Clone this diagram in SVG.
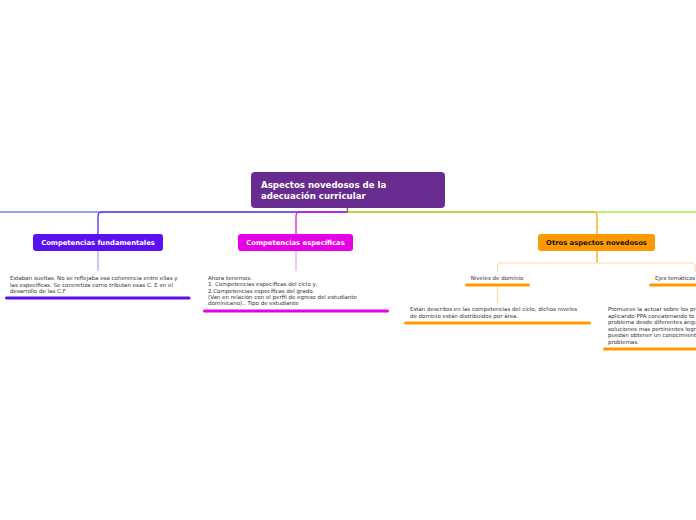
<svg xmlns="http://www.w3.org/2000/svg" width="696" height="520" viewBox="0 0 696 520">
<style>
.t{font-family:"DejaVu Sans",Verdana,sans-serif;font-size:5.5px;fill:#333}
.h{font-family:"DejaVu Sans",Verdana,sans-serif;font-size:6.8px;font-weight:bold;text-anchor:middle}
.c{fill:none;stroke-width:1.2}
.u{fill:none;stroke-width:3;stroke-linecap:round}
</style>
<rect width="696" height="520" fill="#fff"/>
<g id="connectors">
<path class="c" d="M347.5 208 V212 H0" stroke="#1f4fe6"/>
<path class="c" d="M347.5 212 H102 Q98 212 98 216 V234" stroke="#5a10f0"/>
<path class="c" d="M347.5 212 H300 Q296 212 296 216 V234" stroke="#e600e6"/>
<path class="c" d="M347.5 212 H593 Q597 212 597 216 V234" stroke="#ff9900"/>
<path class="c" d="M347.5 212 H696" stroke="#7ee000"/>
<path class="c" d="M347.5 208 V212" stroke="#9a7030"/>
<path class="c" d="M98 251 V271" stroke="#b89cf8"/>
<path class="c" d="M296 251 V271" stroke="#f49cf4"/>
<path class="c" d="M597 251 V263" stroke="#ff9900"/>
<path class="c" d="M497.5 272 V267 Q497.5 263 501.5 263 H691 Q695 263 695 267 V272" stroke="#ffd9a6"/>
<path class="c" d="M497.5 287 V303" stroke="#ffd9a6"/>
</g>
<g id="central">
<rect x="251" y="172" width="194" height="36" rx="4" fill="#682c8e"/>
<text x="261" y="187.5" font-family="DejaVu Sans,Verdana,sans-serif" font-size="8.6" font-weight="bold" fill="#fff">Aspectos novedosos de la</text>
<text x="261" y="198.5" font-family="DejaVu Sans,Verdana,sans-serif" font-size="8.6" font-weight="bold" fill="#fff">adecuación curricular</text>
</g>
<g id="fundamentales">
<rect x="33" y="234" width="130" height="17" rx="3" fill="#5a10f0"/>
<text class="h" x="98" y="245" fill="#fff">Competencias fundamentales</text>
</g>
<g id="fundamentales-nota">
<text class="t" x="10" y="280">Estaban sueltas. No se reflejaba esa coherencia entre ellas y</text>
<text class="t" x="10" y="286.5">las específicas. Se concretiza como tributan esas C. E en el</text>
<text class="t" x="10" y="293">desarrollo de las C.F</text>
<path class="u" d="M6.5 298 H189" stroke="#5a10f0"/>
</g>
<g id="especificas">
<rect x="238" y="234" width="115" height="17" rx="3" fill="#e600e6"/>
<text class="h" x="295.5" y="245" fill="#fff">Competencias específicas</text>
</g>
<g id="especificas-nota">
<text class="t" x="208" y="280">Ahora tenemos:</text>
<text class="t" x="208" y="286.3">1. Competencias específicas del ciclo y,</text>
<text class="t" x="208" y="292.6">2.Competencias específicas del grado.</text>
<text class="t" x="208" y="298.9">(Van en relación con el perfil de egreso del estudiante</text>
<text class="t" x="208" y="305.2">dominicano).. Tipo de estudiante</text>
<path class="u" d="M204.5 311 H387.5" stroke="#e600e6"/>
</g>
<g id="otros">
<rect x="538" y="234" width="117" height="17" rx="3" fill="#ff9900"/>
<text class="h" x="596.5" y="245" fill="#111">Otros aspectos novedosos</text>
</g>
<g id="niveles">
<text class="t" x="497" y="280" text-anchor="middle">Niveles de dominio</text>
<path class="u" d="M466.5 285 H528.5" stroke="#ff9900"/>
</g>
<g id="niveles-nota">
<text class="t" x="410" y="311">Están descritos en las competencias del ciclo, dichos niveles</text>
<text class="t" x="410" y="317.5">de dominio están distribuidos por área.</text>
<path class="u" d="M405.5 323 H589.5" stroke="#ff9900"/>
</g>
<g id="ejes">
<text class="t" x="655" y="280">Ejes temáticos</text>
<path class="u" d="M650.5 285 H697" stroke="#ff9900"/>
</g>
<g id="ejes-nota">
<text class="t" x="608" y="311">Promueve la actuar sobre los pr</text>
<text class="t" x="608" y="317.5">aplicando PPA  concatenando to</text>
<text class="t" x="608" y="324">problema desde diferentes ángu</text>
<text class="t" x="608" y="330.5">soluciones mas pertinentes logr</text>
<text class="t" x="608" y="337">puedan obtener un conocimient</text>
<text class="t" x="608" y="343.5">problemas.</text>
<path class="u" d="M604.5 349 H697" stroke="#ff9900"/>
</g>
</svg>
